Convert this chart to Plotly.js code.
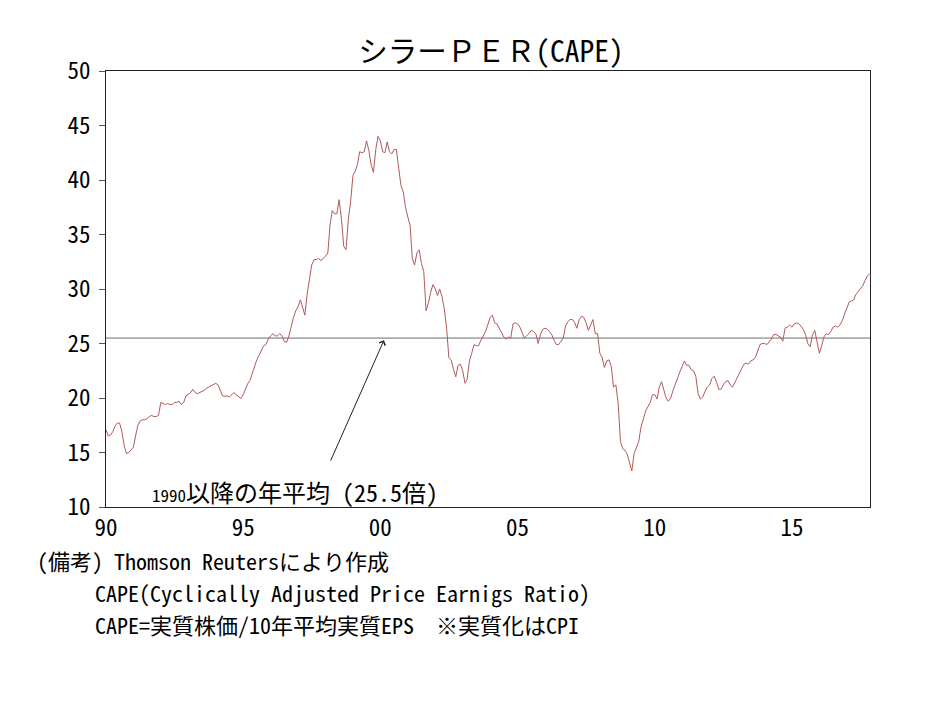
<!DOCTYPE html>
<html>
<head>
<meta charset="utf-8">
<script src="https://cdn.plot.ly/plotly-3.0.1.min.js"></script>
<style>html,body{margin:0;padding:0;background:#fff;}#chart{width:934px;height:701px;}</style>
</head>
<body>
<div id="chart"></div>
<script>
// Shiller CAPE, monthly from Jan 1990
const startYear = 1990;
const cape1990s = [
  17.1,16.5,16.6,16.9,17.4,17.7,17.7,16.9,15.6,14.9,15.0,15.3,   // 1990
  15.5,16.6,17.5,17.9,18.0,18.0,18.1,18.3,18.4,18.3,18.3,18.4,   // 1991
  19.6,19.5,19.4,19.5,19.4,19.4,19.6,19.6,19.7,19.4,19.6,20.2,   // 1992
  20.35,20.5,20.8,20.5,20.4,20.5,20.55,20.7,20.9,21.0,21.1,21.2, // 1993
  21.35,21.2,20.7,20.2,20.15,20.2,20.1,20.3,20.5,20.3,20.1,19.95,// 1994
  20.3,20.9,21.3,21.6,22.2,22.8,23.5,23.9,24.4,24.8,24.9,25.4,   // 1995
  25.7,25.9,25.7,25.7,25.9,25.7,25.2,25.1,25.7,26.6,27.4,28.0,   // 1996
  28.4,29.0,28.3,27.6,29.5,31.0,32.2,32.7,32.7,32.8,32.6,32.8,   // 1997
  33.0,33.3,35.8,37.2,36.9,36.9,38.2,36.4,33.9,33.6,36.4,38.0,   // 1998
  40.4,40.8,41.4,42.6,42.5,42.6,43.6,42.7,41.4,40.7,42.8,44.0    // 1999
];
const cape2000s = [
  43.6,42.6,42.5,43.5,42.6,42.4,42.8,42.8,41.3,39.5,38.9,37.5,   // 2000
  36.6,35.8,32.8,32.2,33.3,33.6,32.35,31.6,28.0,28.7,29.7,30.4,  // 2001
  30.0,29.4,30.0,29.3,28.2,26.4,23.7,23.5,22.6,21.95,23.0,23.1,  // 2002
  22.5,21.35,21.7,23.4,24.1,24.9,24.8,24.8,25.3,25.7,26.1,26.7,  // 2003
  27.4,27.6,26.9,26.8,26.4,26.0,25.6,25.4,25.6,25.5,26.8,26.9,   // 2004
  26.8,26.5,26.0,25.5,25.7,25.9,26.2,26.1,25.9,25.0,25.8,26.3,   // 2005
  26.4,26.3,26.1,25.8,25.3,24.9,24.9,25.2,25.5,26.6,27.0,27.2,   // 2006
  27.2,26.9,26.4,27.2,27.5,27.4,26.9,26.2,26.8,27.2,25.9,25.9,   // 2007
  24.1,23.7,22.8,23.4,23.5,22.9,21.0,21.2,19.5,16.0,15.35,15.2,  // 2008
  14.8,14.0,13.3,14.9,15.5,16.0,17.3,18.1,18.8,19.2,19.6,20.3    // 2009
];
const cape2010s = [
  20.3,19.9,21.0,21.5,20.8,20.0,19.7,20.0,20.7,21.3,21.8,22.4,   // 2010
  22.9,23.4,23.0,23.0,22.6,22.5,22.0,20.4,19.9,20.1,20.6,21.0,   // 2011
  21.2,21.8,22.0,21.5,20.8,20.8,21.2,21.5,21.6,21.2,21.0,21.4,   // 2012
  21.8,22.3,22.6,23.1,23.2,23.1,23.4,23.5,23.7,24.3,24.9,25.0,   // 2013
  25.0,24.9,25.1,25.4,25.8,25.85,25.7,25.6,25.2,26.4,26.5,26.7,  // 2014
  26.5,26.8,26.9,26.8,26.6,26.3,25.8,25.0,24.7,25.8,26.2,25.3,   // 2015
  24.1,24.8,25.6,25.9,25.8,26.1,26.5,26.6,26.5,26.7,27.1,27.7,   // 2016
  28.2,28.8,28.9,29.0,29.5,29.8,30.0,30.3,30.8,31.2,31.4         // 2017 (Jan-Nov)
];
const avgSince1990 = 25.5;
const xTickYears = [1990, 1995, 2000, 2005, 2010, 2015];
const xTickLabels = ['90', '95', '00', '05', '10', '15'];
const noteLines = [
  '(備考) Thomson Reutersにより作成',
  'CAPE(Cyclically Adjusted Price Earnigs Ratio)',
  'CAPE=実質株価/10年平均実質EPS　※実質化はCPI'
];

const cape = cape1990s.concat(cape2000s, cape2010s);
function monthStr(i) {
  const y = startYear + Math.floor(i / 12);
  const m = (i % 12) + 1;
  return y + '-' + (m < 10 ? '0' + m : m) + '-01';
}
const dates = cape.map((_, i) => monthStr(i));

const MONO = '"Noto Sans Mono CJK JP", "Noto Sans CJK JP", monospace';
const noteX = [36, 94, 94];      // left edge, px
const noteY = [560, 592, 624];   // middle, px

const traces = [
  {
    x: [dates[0], '2017-11-05'],
    y: [avgSince1990, avgSince1990],
    mode: 'lines',
    line: {color: '#6e6e6e', width: 1},
    hoverinfo: 'skip',
    showlegend: false
  },
  {
    x: dates,
    y: cape,
    mode: 'lines',
    line: {color: '#b05a5a', width: 1},
    showlegend: false
  }
];

const notes = noteLines.map((t, i) => ({
  x: (noteX[i] - 106) / 764, y: (507 - noteY[i]) / 436, xref: 'paper', yref: 'paper',
  xanchor: 'left', yanchor: 'middle', showarrow: false, borderpad: 0,
  text: t,
  font: {family: MONO, size: 22, color: '#000'}
}));

const layout = {
  width: 934, height: 701,
  margin: {l: 106, r: 64, t: 71, b: 194},
  paper_bgcolor: '#fff', plot_bgcolor: '#fff',
  showlegend: false,
  title: {
    text: 'シラーＰＥＲ(CAPE)',
    font: {family: MONO, size: 29.5, color: '#000'},
    x: (491 - 106) / 764, xref: 'paper', xanchor: 'center',
    y: 1 - 52 / 701, yref: 'container', yanchor: 'middle'
  },
  xaxis: {
    type: 'date',
    range: ['1990-01-01', '2017-11-05'],
    tickvals: xTickYears.map(y => y + '-01-01'),
    ticktext: xTickLabels,
    ticks: '',
    showgrid: false, zeroline: false,
    showline: true, mirror: true, linecolor: '#222', linewidth: 1,
    tickfont: {family: MONO, size: 23, color: '#000'}
  },
  yaxis: {
    range: [10, 50],
    dtick: 5, tick0: 10,
    ticks: 'outside', ticklen: 6, tickcolor: '#555',
    showgrid: false, zeroline: false,
    showline: true, mirror: true, linecolor: '#222', linewidth: 1,
    tickfont: {family: MONO, size: 23, color: '#000'},
    ticklabelstandoff: 4
  },
  annotations: [
    {
      x: '2000-02-18', y: avgSince1990 - 0.2, xref: 'x', yref: 'y',
      ax: -54, ay: 122, axref: 'pixel', ayref: 'pixel',
      text: '', showarrow: true, arrowhead: 4, arrowsize: 1.3, arrowwidth: 1, arrowcolor: '#222'
    },
    {
      x: (150 - 106) / 764, y: (507 - 491) / 436, xref: 'paper', yref: 'paper',
      xanchor: 'left', yanchor: 'middle', showarrow: false,
      text: '<span style="font-size:17px">1990</span>以降の年平均 (25.5倍)',
      font: {family: MONO, size: 24, color: '#000'}
    }
  ].concat(notes)
};

Plotly.newPlot('chart', traces, layout, {displayModeBar: false, staticPlot: true});
</script>
</body>
</html>
